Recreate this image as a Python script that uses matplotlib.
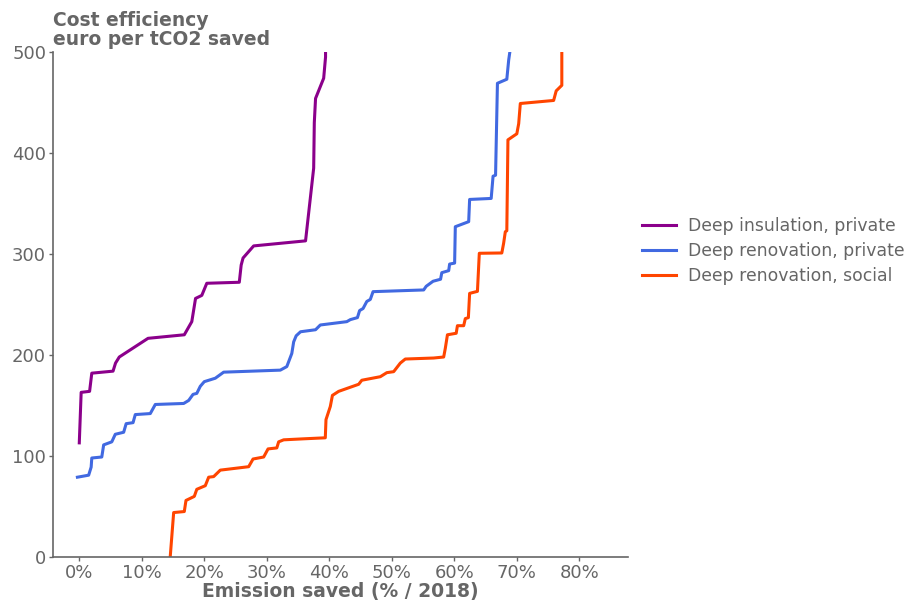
import numpy as np
import matplotlib.pyplot as plt
from matplotlib.ticker import PercentFormatter

# emission saved (fraction of 2018) vs cost (euro per tCO2 saved)
insul_private_x = [0.0, 0.003, 0.0165, 0.020, 0.054, 0.058, 0.064, 0.110, 0.168, 0.180,
                   0.186, 0.196, 0.204, 0.256, 0.259, 0.262, 0.279, 0.362, 0.375, 0.376,
                   0.378, 0.391, 0.394, 0.394]
insul_private_y = [113, 163, 164, 182, 184, 192, 198, 216.5, 220, 233,
                   256, 259, 271, 272, 289, 296, 308, 313, 385, 430,
                   454, 474, 495, 505]

renov_private_x = [-0.003, 0.015, 0.019, 0.020, 0.036, 0.039, 0.052, 0.0576, 0.071, 0.075,
                   0.086, 0.0896, 0.1136, 0.1216, 0.167, 0.175, 0.182, 0.188, 0.1936, 0.200,
                   0.2176, 0.231, 0.3216, 0.332, 0.340, 0.343, 0.347, 0.354, 0.378, 0.3856,
                   0.428, 0.4336, 0.445, 0.4485, 0.454, 0.460, 0.4656, 0.470, 0.551, 0.555,
                   0.566, 0.578, 0.580, 0.591, 0.5925, 0.6005, 0.6016, 0.623, 0.6245, 0.659,
                   0.662, 0.666, 0.669, 0.684, 0.687, 0.690]
renov_private_y = [79, 81, 89, 98, 99, 111, 114, 121.5, 123.5, 132,
                   133, 141, 142, 151, 152, 155, 161, 162, 169, 173.6,
                   177, 183, 185, 188.5, 201.5, 213, 219, 223, 225, 229.7,
                   233, 235, 237, 244, 246, 253, 255, 262.7, 264.4, 268,
                   273, 275, 281.5, 283.5, 290, 291, 327, 332, 354, 355,
                   377, 378, 469, 473, 492, 505]

renov_social_x = [0.1456, 0.151, 0.168, 0.1707, 0.184, 0.188, 0.2016, 0.207, 0.215, 0.2256,
                  0.271, 0.278, 0.295, 0.302, 0.316, 0.319, 0.327, 0.359, 0.3936, 0.3947,
                  0.4016, 0.405, 0.415, 0.447, 0.452, 0.4816, 0.492, 0.503, 0.5136, 0.5216,
                  0.567, 0.583, 0.5856, 0.589, 0.603, 0.605, 0.615, 0.6176, 0.6225, 0.6245,
                  0.637, 0.640, 0.676, 0.6789, 0.6816, 0.684, 0.6858, 0.700, 0.703, 0.7056,
                  0.7589, 0.763, 0.772, 0.772]
renov_social_y = [1, 44, 45, 56, 60, 67, 70.6, 79, 79.6, 86,
                  89.4, 97, 99, 107, 108, 114, 116, 117, 118, 136,
                  149, 160, 164, 171, 175, 178.5, 182.5, 183.5, 192, 196,
                  197, 198, 206.6, 220, 221.5, 229, 229, 236, 237, 261,
                  263, 300.7, 301, 310.6, 322, 323, 413, 419, 429, 449,
                  452, 461.5, 467, 505]

labels = ["Deep insulation, private", "Deep renovation, private", "Deep renovation, social"]
colors = ["#8B008B", "#4169E1", "#FF4500"]
grey = "#666666"

fig = plt.figure(figsize=(9.05, 6.03), dpi=100)
ax = fig.add_axes([0.0586, 0.0763, 0.6354, 0.8375])

series = [(insul_private_x, insul_private_y),
          (renov_private_x, renov_private_y),
          (renov_social_x, renov_social_y)]
for (xs, ys), lab, c in zip(series, labels, colors):
    ax.plot(xs, ys, color=c, lw=2.2, label=lab)

ax.set_xlim(-0.042, 0.878)
ax.set_ylim(0, 500)
ax.set_xticks(np.arange(0, 0.81, 0.1))
ax.set_yticks([0, 100, 200, 300, 400, 500])
ax.xaxis.set_major_formatter(PercentFormatter(1.0, decimals=0))
ax.tick_params(colors=grey, labelsize=13, length=3, width=1, pad=2)

for side in ["top", "right"]:
    ax.spines[side].set_visible(False)
for side in ["left", "bottom"]:
    ax.spines[side].set_color(grey)
    ax.spines[side].set_linewidth(1.2)

ax.set_xlabel("Emission saved (% / 2018)", color=grey, fontsize=13.5,
              fontweight="bold", labelpad=0)
ax.text(0, 1.005, "Cost efficiency\neuro per tCO2 saved", transform=ax.transAxes,
        ha="left", va="bottom", color=grey, fontsize=13.5, fontweight="bold",
        linespacing=1.0)

leg = ax.legend(loc="center left", bbox_to_anchor=(1.0, 0.606), frameon=False,
                fontsize=12.4, handlelength=2.0, borderaxespad=0.4,
                handletextpad=0.7, labelspacing=0.4)
for t in leg.get_texts():
    t.set_color(grey)

fig.savefig("out.png", dpi=100)
